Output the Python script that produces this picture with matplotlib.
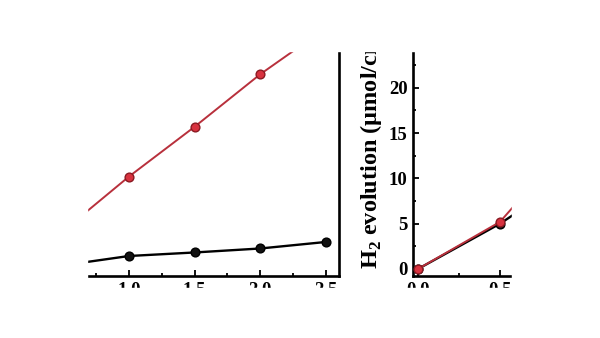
import numpy as np
import matplotlib
matplotlib.use("Agg")
import matplotlib.pyplot as plt
from matplotlib.patches import Rectangle
from matplotlib.ticker import MultipleLocator

# data (umol per unit area)
time_left = [0.0, 0.5, 1.0, 1.5, 2.0, 2.5]
red_left = [0.0, 4.2, 10.2, 15.7, 21.5, 26.6]
black_left = [0.0, 0.4, 1.43, 1.82, 2.26, 2.98]

time_right = [0.0, 0.5, 1.0, 1.5]
red_right = [0.0, 5.2, 15.5, 25.0]
black_right = [0.0, 5.0, 11.0, 17.0]

x_ticks_left = [1.0, 1.5, 2.0, 2.5]
x_ticks_right = [0.0, 0.5]
y_ticks_right = [0, 5, 10, 15, 20, 25]

W, H = 600, 338
plt.rcParams['font.family'] = ['Liberation Serif', 'DejaVu Serif']
plt.rcParams['font.weight'] = 'bold'
plt.rcParams['mathtext.fontset'] = 'custom'
plt.rcParams['mathtext.rm'] = 'Liberation Serif:bold'
plt.rcParams['mathtext.it'] = 'Liberation Serif:bold'
plt.rcParams['mathtext.bf'] = 'Liberation Serif:bold'

fig = plt.figure(figsize=(W / 100, H / 100), dpi=100)


def px_axes(x0, y0, x1, y1):
    # pixel box (from top-left) -> figure fraction
    return fig.add_axes([x0 / W, 1 - y1 / H, (x1 - x0) / W, (y1 - y0) / H])


red_line = '#b8303c'
red_face = '#d8323f'
red_edge = '#8a1a22'


def style(ax):
    ax.tick_params(which='both', direction='in', width=1.3, labelsize=13.5, pad=4)
    ax.tick_params(which='major', length=4.5)
    ax.tick_params(which='minor', length=2.5)
    for s in ax.spines.values():
        s.set_linewidth(1.9)


def draw(ax, t, black, red):
    ax.plot(t, black, color='black', lw=1.7, marker='o', ms=6.3,
            mfc='#111111', mec='black', zorder=3)
    ax.plot(t, red, color=red_line, lw=1.4, marker='o', ms=6.3,
            mfc=red_face, mec=red_edge, zorder=3)


# left panel (only the right part is visible)
ax1 = px_axes(-15.5, -2.8, 339.1, 276.2)
draw(ax1, time_left, black_left, red_left)
ax1.set_xlim(-0.1, 2.6)
ax1.set_ylim(-0.8, 30)
ax1.set_xticks(x_ticks_left)
ax1.set_xticklabels([f"{v:.1f}" for v in x_ticks_left])
ax1.xaxis.set_minor_locator(MultipleLocator(0.25))
ax1.set_yticks([])
style(ax1)

# right panel (only the left part is visible)
ax2 = px_axes(413.1, -2.8, 910, 276.2)
draw(ax2, time_right, black_right, red_right)
ax2.set_xlim(-0.03, 3.0)
ax2.set_ylim(-0.8, 30)
ax2.set_xticks(x_ticks_right)
ax2.set_xticklabels([f"{v:.1f}" for v in x_ticks_right])
ax2.set_yticks(y_ticks_right)
ax2.xaxis.set_minor_locator(MultipleLocator(0.25))
ax2.yaxis.set_minor_locator(MultipleLocator(2.5))
style(ax2)

fig.text(372 / W, 1 - 269 / H, "H$_2$ evolution (\u03bcmol/cm$^2$)", rotation=90,
         ha='center', va='bottom', fontsize=17.5, fontweight='bold')

# the picture is a crop: blank out everything outside the visible window
cx0, cy0, cx1, cy1 = 87, 51, 512, 288
for (x0, y0, x1, y1) in [(0, 0, W, cy0), (0, cy1, W, H), (0, 0, cx0, H), (cx1, 0, W, H)]:
    fig.add_artist(Rectangle((x0 / W, 1 - y1 / H), (x1 - x0) / W, (y1 - y0) / H,
                             transform=fig.transFigure, color='white', zorder=20))

fig.savefig("out.png", dpi=100)
